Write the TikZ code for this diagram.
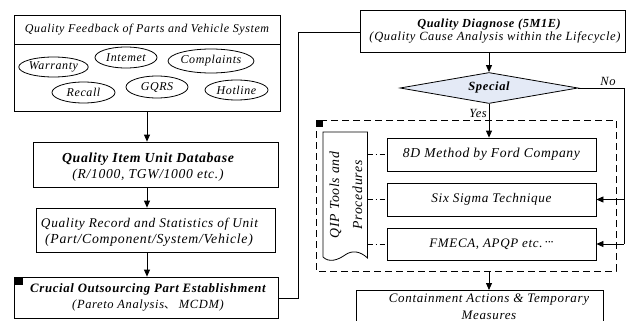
\documentclass[tikz,border=0pt]{standalone}
\usepackage{fontspec}
\setmainfont{Liberation Serif}[LetterSpace=5]
\newfontfamily\cjkfont{Noto Sans CJK SC}
\usetikzlibrary{shapes.geometric,arrows.meta}
\tikzset{
  box/.style={draw, line width=0.8pt, rectangle, inner sep=0pt, align=center},
  oval/.style={draw, line width=0.8pt, ellipse, inner sep=0pt, font=\fontsize{12}{13}\selectfont\itshape},
  conn/.style={line width=0.8pt},
  arr/.style={line width=0.8pt, -{Triangle[length=7pt,width=6pt]}},
  lbl/.style={font=\fontsize{#1}{15}\selectfont\itshape, inner sep=0pt},
  lbl/.default=12.5,
  blbl/.style={font=\fontsize{#1}{15}\selectfont\bfseries\itshape, inner sep=0pt},
  blbl/.default=12.5,
  dashdot/.style={line width=0.8pt, dash pattern=on 5pt off 3pt on 1pt off 3pt},
}
\begin{document}
\begin{tikzpicture}[x=1pt,y=-1pt]
\useasboundingbox (0,0) rectangle (626,321);
% ---------- left column ----------
\node[box, minimum width=266pt, minimum height=96pt] (fb) at (147,63) {};
\node[box, minimum width=266pt, minimum height=29pt, anchor=north] (fbt) at (fb.north) {};
\node[lbl=12] (fbtext) at (fbt.center) {Quality Feedback of Parts and Vehicle System};
\node[oval, minimum width=63pt, minimum height=20pt] (warr) at (53.5,67) {Warranty};
\node[oval, minimum width=62pt, minimum height=21pt] (inet) at (126,57.5) {Intemet};
\node[oval, minimum width=82pt, minimum height=24pt] (compl) at (211,61) {Complaints};
\node[oval, minimum width=63pt, minimum height=21pt] (recall) at (83.5,92.5) {Recall};
\node[oval, minimum width=62pt, minimum height=22pt] (gqrs) at (157,87) {GQRS};
\node[oval, minimum width=63pt, minimum height=20pt] (hot) at (236.5,90) {Hotline};

\node[box, minimum width=245pt, minimum height=45pt] (db) at (155.5,164.5) {};
\node[blbl=13.8] at (148,159) {Quality Item Unit Database};
\node[lbl=13.6] at (148,175) {(R/1000, TGW/1000 etc.)};

\node[box, minimum width=239pt, minimum height=44pt] (rec) at (155.5,230) {};
\node[lbl=13.3] at (149.5,224) {Quality Record and Statistics of Unit};
\node[lbl=13.8] at (149,240) {(Part/Component/System/Vehicle)};

\node[box, minimum width=264pt, minimum height=41pt] (cru) at (146,297.5) {};
\fill (cru.north west) rectangle ++(9,8);
\node[blbl=12.8] at (148,289) {Crucial Outsourcing Part Establishment};
\node[lbl=12.5] at (148,306) {(Pareto Analysis{\cjkfont\fontsize{11}{13}\selectfont 、} MCDM)};

\coordinate (a1) at (147,111);
\draw[arr] (a1) -- (a1 |- db.north);
\coordinate (a2) at (147,187);
\draw[arr] (a2) -- (a2 |- rec.north);
\coordinate (a3) at (147,252);
\draw[arr] (a3) -- (a3 |- cru.north);

% ---------- right column ----------
\node[box, minimum width=265pt, minimum height=42pt] (qd) at (492.5,31) {};
\node[blbl=12.3] at (489,24.5) {Quality Diagnose (5M1E)};
\node[lbl] at (495,37.5) {(Quality Cause Analysis within the Lifecycle)};

\coordinate (turn1) at (298,298);
\draw[conn] (cru.east |- turn1) -- (turn1) -- (298,32) -- (qd.west |- 0,32);

\node[draw, line width=0.8pt, diamond, aspect=5.7, minimum width=178pt, minimum height=31pt, inner sep=0pt, fill={rgb,255:red,228;green,234;blue,246}] (sp) at (489,88) {};
\node[blbl] at (489,87) {Special};
\draw[arr] (qd.south -| sp.north) -- (sp.north);

% dashed frame
\draw[line width=0.8pt, dash pattern=on 7pt off 4pt] (316,120) rectangle (616,271);
\coordinate (dfb) at (489,271);
\fill (316,120) rectangle (323,127);

% QIP document shape
\draw[line width=0.8pt] (323,257) -- (323,132) -- (367.5,132) -- (367.5,258)
  .. controls (360,251) and (352,250) .. (345,255)
  .. controls (338,260) and (329,263) .. (323,257);
\node[rotate=90, align=center, inner sep=0pt, font=\fontsize{13.8}{23}\selectfont\itshape] (qip) at (346,195) {QIP Tools and\\Procedures};

\node[box, minimum width=209pt, minimum height=33pt] (m8d) at (491.5,154.5) {};
\node[lbl=13.6] at (m8d.center) {8D Method by Ford Company};
\node[box, minimum width=209pt, minimum height=33pt] (six) at (491.5,199.5) {};
\node[lbl=13.2] at (six.center) {Six Sigma Technique};
\node[box, minimum width=209pt, minimum height=32pt] (fme) at (491.5,244) {};
\node[lbl=13] at (fme.center) {FMECA, APQP etc.\,\raisebox{0.1ex}{·\kern-0.4pt·\kern-0.4pt·}};

\draw[arr] (sp.south) -- (m8d.north -| sp.south);
\node[lbl, anchor=east] at (487,113) {Yes};

\coordinate (r1) at (624,88);
\coordinate (r2) at (624,244);
\draw[conn] (sp.east) -- (r1) -- (r2);
\node[lbl, anchor=south] at (608,86) {No};
\draw[arr] (r1 |- six.east) -- (six.east);
\draw[arr] (r2) -- (fme.east);

\draw[dashdot] (367.5,154.5) -- (m8d.west);
\draw[dashdot] (367.5,199.5) -- (six.west);
\draw[dashdot] (367.5,244) -- (fme.west);

\node[box, minimum width=247pt, minimum height=44pt, anchor=north] (cont) at (479.5,290) {};
\node[lbl=13] at (489,300) {Containment Actions \& Temporary};
\node[lbl=13] at (489,315) {Measures};
\draw[arr] (dfb) -- (dfb |- cont.north);
\end{tikzpicture}
\end{document}
